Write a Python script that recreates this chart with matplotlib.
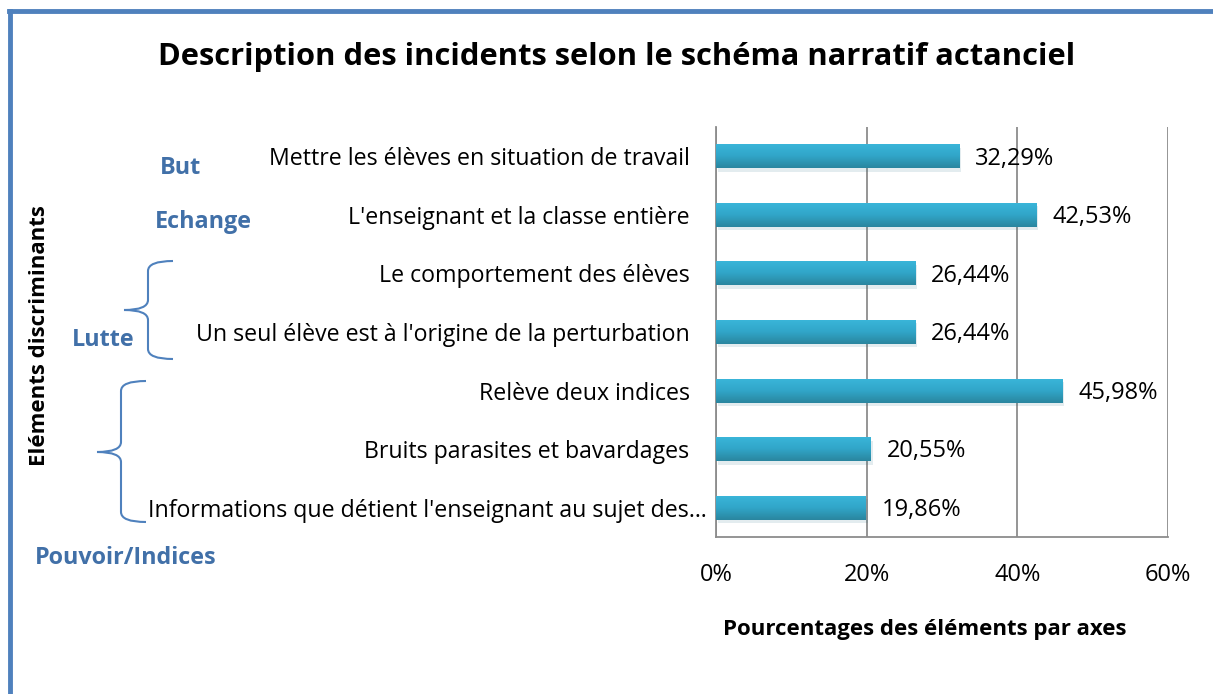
import numpy as np
import matplotlib
matplotlib.use("Agg")
import matplotlib.pyplot as plt
from matplotlib.path import Path
from matplotlib.patches import PathPatch
from matplotlib.transforms import ScaledTranslation
import matplotlib.patheffects as pe

categories = [
    "Mettre les élèves en situation de travail",
    "L'enseignant et la classe entière",
    "Le comportement des élèves",
    "Un seul élève est à l'origine de la perturbation",
    "Relève deux indices",
    "Bruits parasites et bavardages",
    "Informations que détient l'enseignant au sujet des…",
]
values = [32.29, 42.53, 26.44, 26.44, 45.98, 20.55, 19.86]
xticks = [0, 20, 40, 60]
groups = ["But", "Echange", "Lutte", "Pouvoir/Indices"]

W, H = 1213, 694
plt.rcParams["font.family"] = ["Open Sans", "DejaVu Sans"]
fig = plt.figure(figsize=(W / 100, H / 100), dpi=100)


def fx(x, y):
    return (x / W, 1 - y / H)


ax = fig.add_axes([716 / W, 1 - 537 / H, (1168 - 716) / W, (537 - 127) / H])

ypos = np.arange(len(categories))
bars = ax.barh(ypos, values, height=0.41, color="#33AED2", zorder=3)

# gradient fill + soft shadow like the original
grad = np.linspace(0, 1, 64).reshape(-1, 1)
cmap = matplotlib.colors.LinearSegmentedColormap.from_list("b", ["#3AB6DA", "#31A6C9", "#2A869F"])
for b in bars:
    b.set_path_effects([pe.SimplePatchShadow(offset=(1.5, -2.5), alpha=0.12, rho=0.6), pe.Normal()])
    x0, y0 = b.get_x(), b.get_y()
    im = ax.imshow(grad, cmap=cmap, aspect="auto", zorder=4,
                   extent=[x0, x0 + b.get_width(), y0 + b.get_height(), y0])
    im.set_clip_path(b)

for y, v in zip(ypos, values):
    ax.text(v + 2.1, y + 0.04, f"{v:.2f}%".replace(".", ","), va="center", ha="left",
            fontsize=17, zorder=5)

ax.set_xlim(0, 60)
ax.set_ylim(len(categories) - 0.5, -0.5)
ax.set_xticks(xticks)
ax.set_xticklabels([f"{t}%" for t in xticks], fontsize=17)
ax.set_yticks(ypos)
ax.set_yticklabels(categories, fontsize=16.7)
ax.tick_params(axis="x", length=0, pad=19)
ax.tick_params(axis="y", length=0, pad=19)
# the truncated label sits closer to the axis in the original
lab = ax.get_yticklabels()[-1]
lab.set_transform(lab.get_transform() + ScaledTranslation(0.17, 0, fig.dpi_scale_trans))
ax.grid(axis="x", color="#8C8C8C", linewidth=1.3, zorder=0)
for s in ["top", "right"]:
    ax.spines[s].set_visible(False)
for s in ["left", "bottom"]:
    ax.spines[s].set_color("#8C8C8C")
    ax.spines[s].set_linewidth(1.3)

fig.text(*fx(617, 57), "Description des incidents selon le schéma narratif actanciel",
         ha="center", va="center", fontsize=22.2, fontweight="bold")
fig.text(*fx(925, 630), "Pourcentages des éléments par axes",
         ha="center", va="center", fontsize=16, fontweight="bold")
fig.text(*fx(40, 336), "Eléments discriminants", rotation=90,
         ha="center", va="center", fontsize=16, fontweight="bold")

blue = "#4170A8"
for name, (x, y) in zip(groups, [(180, 168), (203, 222), (103, 340), (126, 558)]):
    fig.text(*fx(x, y), name, ha="center", va="center", fontsize=16.8,
             fontweight="bold", color=blue)


def brace(x_line, x_end, x_tip, y_top, y_mid, y_bot, r=10):
    pts = [(x_end, y_top), (x_line, y_top), (x_line, y_top + r),
           (x_line, y_mid - r), (x_line, y_mid), (x_tip, y_mid),
           (x_line, y_mid), (x_line, y_mid + r),
           (x_line, y_bot - r), (x_line, y_bot), (x_end, y_bot)]
    codes = [Path.MOVETO, Path.CURVE3, Path.CURVE3,
             Path.LINETO, Path.CURVE3, Path.CURVE3,
             Path.CURVE3, Path.CURVE3,
             Path.LINETO, Path.CURVE3, Path.CURVE3]
    verts = [fx(x, y) for x, y in pts]
    fig.patches.append(PathPatch(Path(verts, codes), fill=False, edgecolor="#4F81BD",
                                 linewidth=1.5, transform=fig.transFigure))


brace(148, 173, 124, 261, 310, 359)
brace(121, 146, 97, 381, 452, 522)

# outer frame (left + top edges visible)
fig.add_artist(plt.Line2D([10 / W, 10 / W], [0, 1 - 11 / H], color="#4F81BD",
                          linewidth=3.5, transform=fig.transFigure))
fig.add_artist(plt.Line2D([8.5 / W, 1], [1 - 11 / H, 1 - 11 / H], color="#4F81BD",
                          linewidth=3.5, transform=fig.transFigure))

fig.savefig("out.png", dpi=100)
